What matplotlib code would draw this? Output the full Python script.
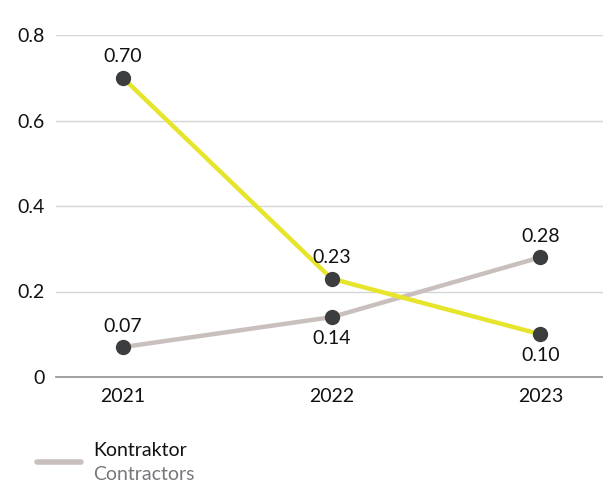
import matplotlib.pyplot as plt

years = [2021, 2022, 2023]
yellow_vals = [0.70, 0.23, 0.10]
contractor_vals = [0.07, 0.14, 0.28]
yellow_pos = ["above", "above", "below"]
contractor_pos = ["above", "below", "above"]
y_ticks = [0, 0.2, 0.4, 0.6, 0.8]
y_tick_labels = ["0", "0.2", "0.4", "0.6", "0.8"]

plt.rcParams["font.family"] = ["Lato", "DejaVu Sans"]

fig = plt.figure(figsize=(6.03, 4.87), dpi=100)
ax = fig.add_axes([56 / 603, 1 - 377 / 487, 547 / 603, 342 / 487])

yellow = "#e6e52c"
grey = "#c9c0be"
dot = "#3c3d3e"

ax.plot(years, contractor_vals, color=grey, lw=3.2, solid_capstyle="round", zorder=3)
ax.plot(years, yellow_vals, color=yellow, lw=3.2, solid_capstyle="round", zorder=3)
ax.plot(years, contractor_vals, "o", color=dot, ms=10, zorder=4)
ax.plot(years, yellow_vals, "o", color=dot, ms=10, zorder=4)

for vals, pos in [(yellow_vals, yellow_pos), (contractor_vals, contractor_pos)]:
    for x, v, p in zip(years, vals, pos):
        off = 9 if p == "above" else -9
        ax.annotate(f"{v:.2f}", (x, v), xytext=(0, off), textcoords="offset points",
                    ha="center", va="bottom" if p == "above" else "top",
                    fontsize=14, color="#111111", zorder=5)

ax.set_xlim(2020.68, 2023.30)
ax.set_ylim(0, 0.8)
ax.set_yticks(y_ticks)
ax.set_yticklabels(y_tick_labels)
ax.set_xticks(years)
ax.set_xticklabels([str(y) for y in years])
ax.tick_params(length=0, labelsize=14, colors="#111111")
ax.tick_params(axis="y", pad=8)
ax.tick_params(axis="x", pad=8)

for s in ax.spines.values():
    s.set_visible(False)
for t in y_ticks[1:]:
    ax.axhline(t, color="#d6d6d6", lw=1, zorder=1)
ax.axhline(0, color="#9a9a9a", lw=1.3, zorder=1, clip_on=False)

# legend
fig.lines.append(plt.Line2D([37 / 603, 81 / 603], [1 - 462 / 487] * 2, color=grey, lw=4,
                            solid_capstyle="round", transform=fig.transFigure))
fig.text(93 / 603, 1 - 451 / 487, "Kontraktor", fontsize=14, color="#111111", va="center")
fig.text(93 / 603, 1 - 475 / 487, "Contractors", fontsize=14, color="#77777c", va="center")

fig.savefig("out.png", dpi=100)
